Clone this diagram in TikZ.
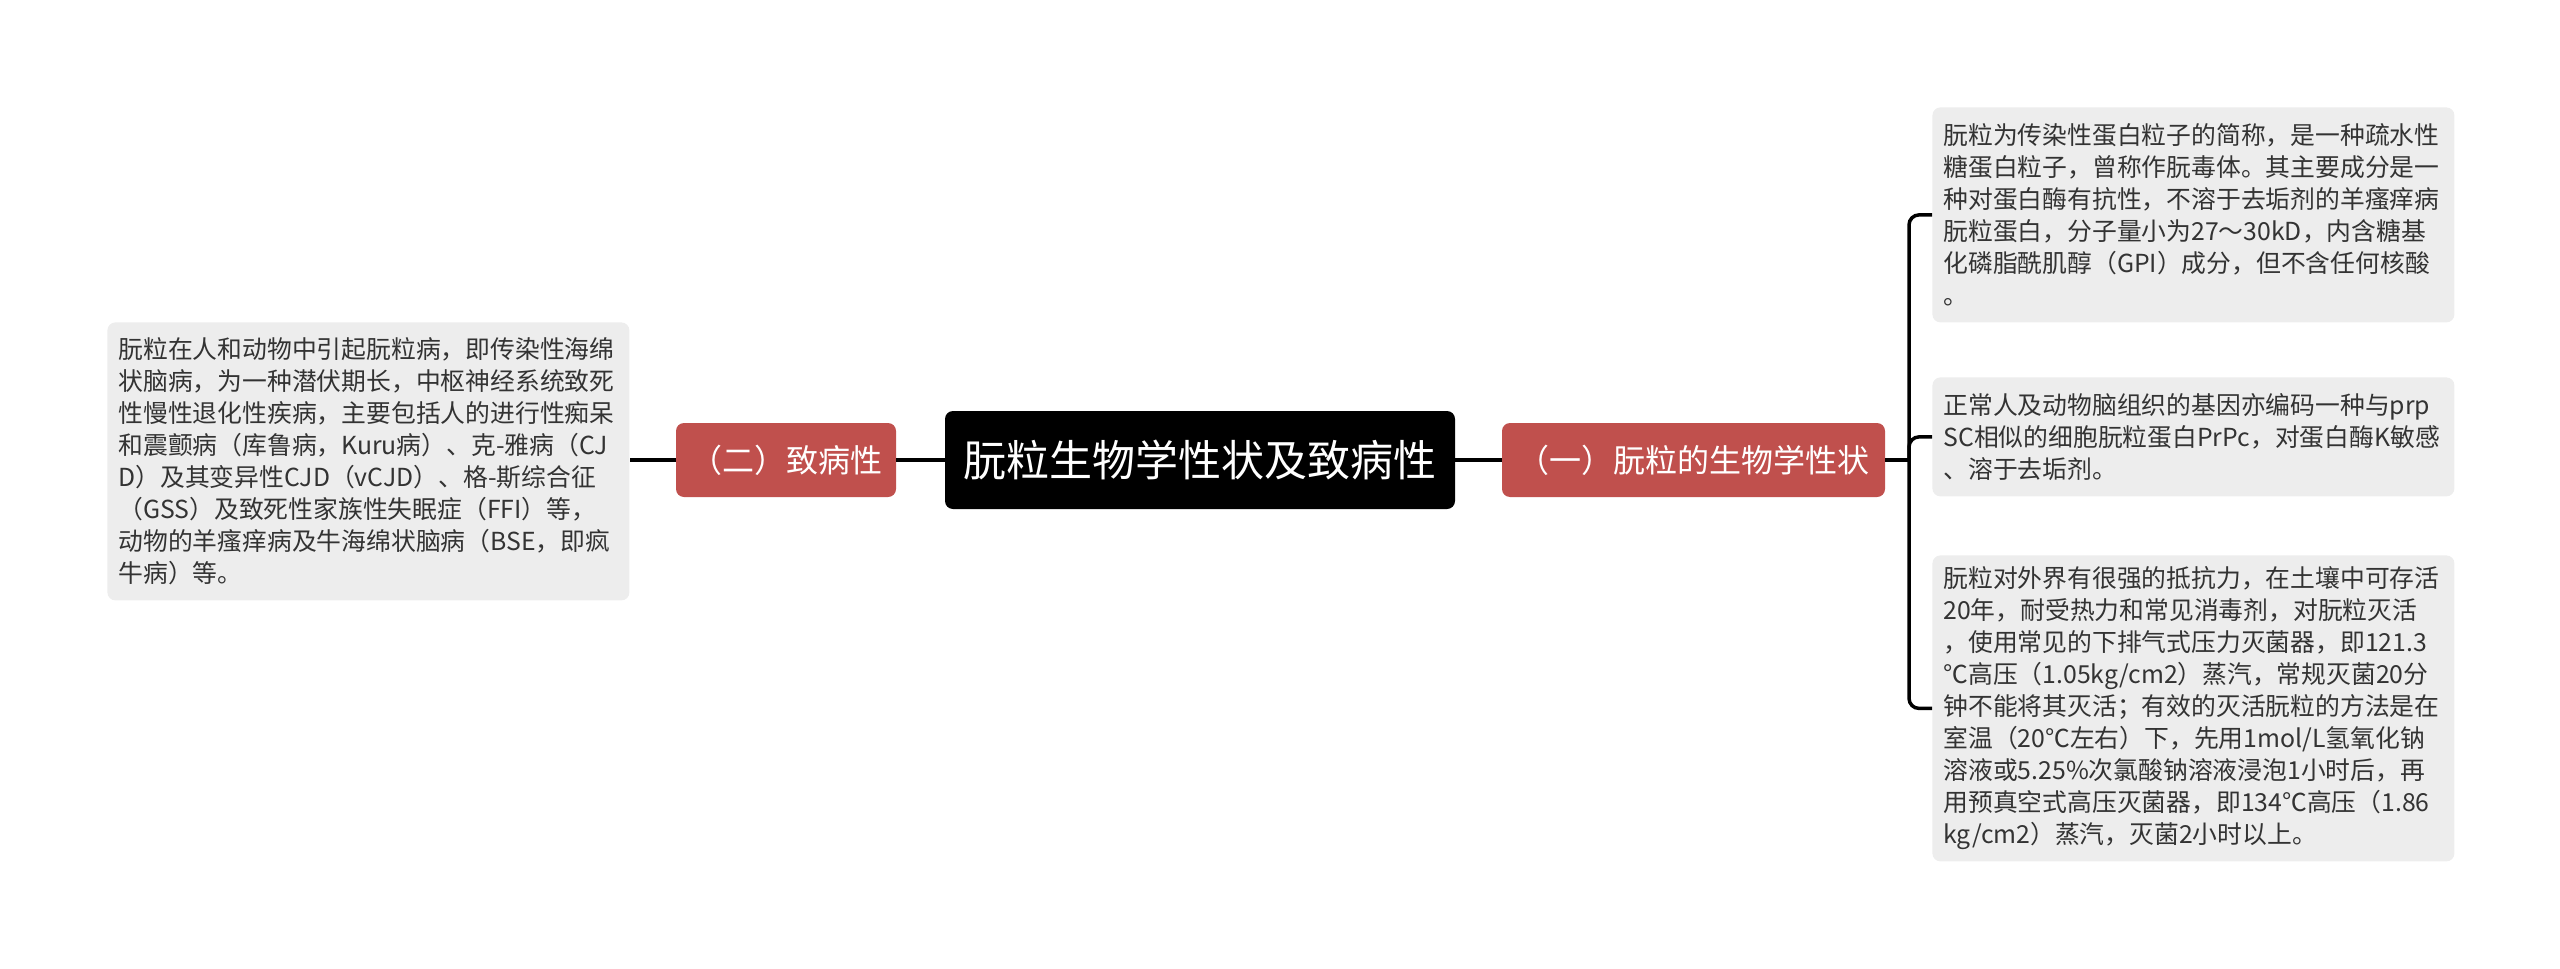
\documentclass[tikz,border=0pt]{standalone}
\usepackage{fontspec}
\setmainfont{Noto Sans CJK SC}
\definecolor{redbox}{HTML}{C0504D}
\definecolor{graybox}{HTML}{EDEDED}
\definecolor{graytext}{HTML}{333333}
\tikzset{
  rootbox/.style={fill=black, text=white, rounded corners=4pt, minimum width=255pt, minimum height=49pt, inner sep=0pt, font=\fontsize{21.5pt}{26pt}\selectfont},
  topicbox/.style={fill=redbox, text=white, rounded corners=4pt, minimum height=37pt, inner sep=0pt, font=\fontsize{16pt}{20pt}\selectfont},
  leafbox/.style={fill=graybox, text=graytext, rounded corners=4pt, anchor=north west, text width=250pt, inner xsep=5.5pt, inner ysep=0pt, align=left, font=\fontsize{12.4pt}{16pt}\selectfont},
  link/.style={draw=black, line width=1.75pt},
}
\begin{document}
\begin{tikzpicture}[x=0.5pt, y=-0.5pt]
\useasboundingbox (0,0) rectangle (2560,969);

\node[rootbox] (root) at (1200,460) {朊粒生物学性状及致病性};
\node[topicbox, minimum width=110pt] (left) at (786,460) {（二）致病性};
\node[topicbox, minimum width=191.5pt] (right) at (1693.5,460) {（一）朊粒的生物学性状};

\node[leafbox, minimum height=139pt] (lleaf) at (107,322) {朊粒在人和动物中引起朊粒病，即传染性海绵\\状脑病，为一种潜伏期长，中枢神经系统致死\\性慢性退化性疾病，主要包括人的进行性痴呆\\和震颤病（库鲁病，Kuru病）、克-雅病（CJ\\D）及其变异性CJD（vCJD）、格-斯综合征\\（GSS）及致死性家族性失眠症（FFI）等，\\动物的羊瘙痒病及牛海绵状脑病（BSE，即疯\\牛病）等。};

\node[leafbox, minimum height=107.5pt] (r1) at (1932,107) {朊粒为传染性蛋白粒子的简称，是一种疏水性\\糖蛋白粒子，曾称作朊毒体。其主要成分是一\\种对蛋白酶有抗性，不溶于去垢剂的羊瘙痒病\\朊粒蛋白，分子量小为27～30kD，内含糖基\\化磷脂酰肌醇（GPI）成分，但不含任何核酸\\。};

\node[leafbox, minimum height=59.5pt] (r2) at (1932,377) {正常人及动物脑组织的基因亦编码一种与prp\\SC相似的细胞朊粒蛋白PrPc，对蛋白酶K敏感\\、溶于去垢剂。};

\node[leafbox, minimum height=153pt] (r3) at (1932,555) {朊粒对外界有很强的抵抗力，在土壤中可存活\\20年，耐受热力和常见消毒剂，对朊粒灭活\\，使用常见的下排气式压力灭菌器，即121.3\\℃高压（1.05kg/cm2）蒸汽，常规灭菌20分\\钟不能将其灭活；有效的灭活朊粒的方法是在\\室温（20℃左右）下，先用1mol/L氢氧化钠\\溶液或5.25\%次氯酸钠溶液浸泡1小时后，再\\用预真空式高压灭菌器，即134℃高压（1.86\\kg/cm2）蒸汽，灭菌2小时以上。};

\coordinate (bx) at (1909,460);

\draw[link] (root.west) -- (left.east);
\draw[link] (left.west) -- (lleaf.east |- left.west);
\draw[link] (root.east) -- (right.west);
\draw[link] (right.east) -- (bx);
\draw[link, rounded corners=5pt] (bx) -- (bx |- r1.west) -- (r1.west);
\draw[link, rounded corners=5pt] (bx) -- (bx |- r2.west) -- (r2.west);
\draw[link, rounded corners=5pt] (bx) -- (bx |- r3.west) -- (r3.west);
\end{tikzpicture}
\end{document}
